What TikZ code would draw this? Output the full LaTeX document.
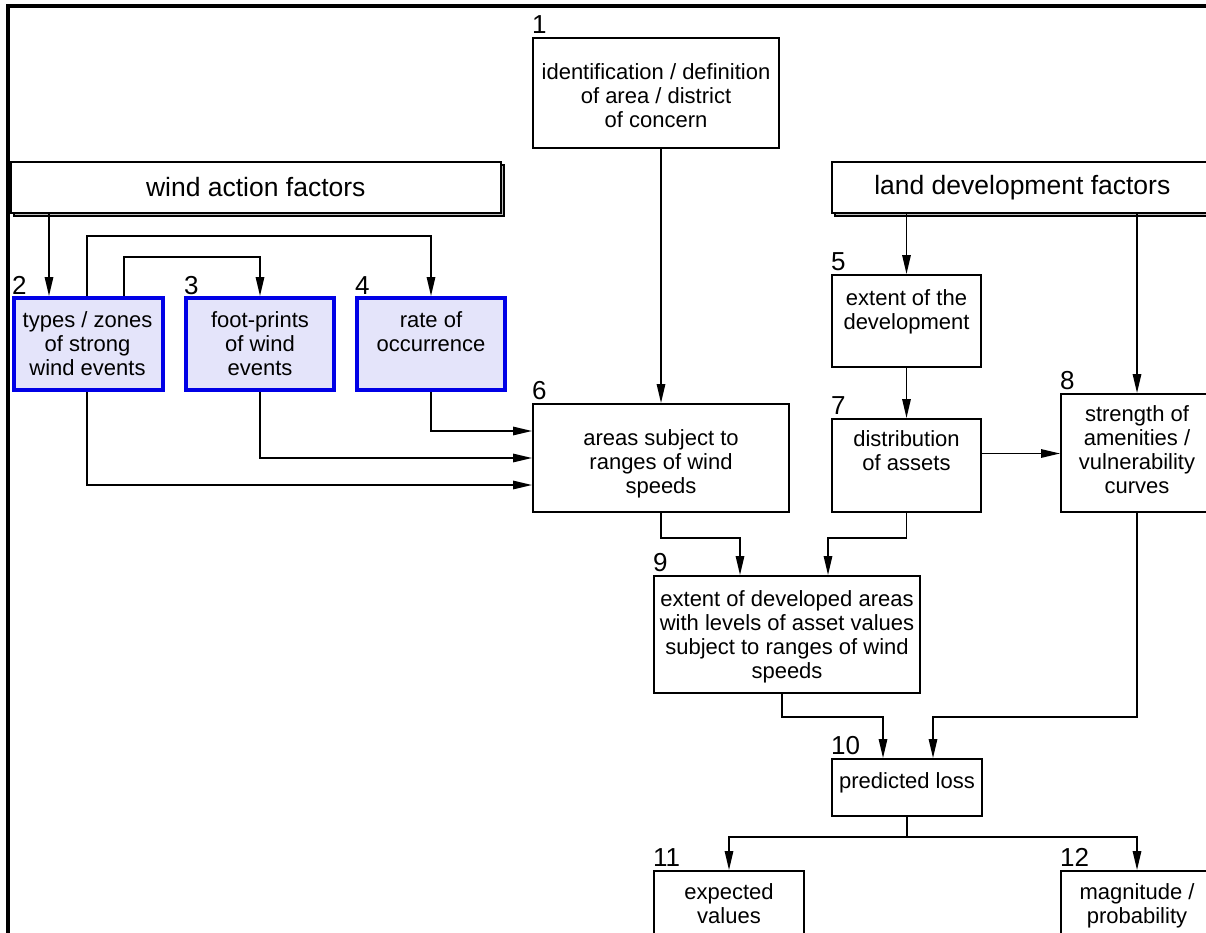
\documentclass[tikz,border=0pt]{standalone}
\usepackage{fontspec}
\setmainfont{Liberation Sans}
\usetikzlibrary{arrows.meta,shadows}

\definecolor{evtblue}{RGB}{0,0,230}
\definecolor{evtfill}{RGB}{228,228,250}

\tikzset{
  box/.style={draw, line width=2pt, anchor=north west, inner sep=0pt},
  evt/.style={box, draw=evtblue, line width=4pt, fill=evtfill},
  head/.style={draw, line width=1.6pt, fill=white, anchor=north west, font=\fontsize{26.5}{30}\selectfont,
    copy shadow={shadow xshift=3pt, shadow yshift=-3pt, fill=gray!50, draw=black, line width=1.6pt}},
  txt/.style={anchor=north, inner sep=0pt, yshift=-15pt, align=center, font=\fontsize{22}{24}\selectfont},
  num/.style={anchor=south west, inner sep=0pt, yshift=3pt, font=\fontsize{26}{30}\selectfont},
}

\begin{document}
\begin{tikzpicture}[x=1pt, y=-1pt, >={Triangle[length=19pt,width=8.5pt]}, conn/.style={->, line width=1.5pt}]
  \useasboundingbox (0,0) rectangle (1206,933);
  \clip (0,0) rectangle (1206,933);
  \draw[line width=3.5pt] (8,6) rectangle (1240,960);

  % factor headers
  \node[head, minimum width=490pt, minimum height=51pt] (wind) at (10,161) {wind action factors};
  \node[head, minimum width=381pt, minimum height=51pt] (land) at (831,161) {land development factors};

  % wind side
  \node[box, minimum width=246pt, minimum height=110pt, label={[num]north west:1},
    label={[txt,yshift=-11pt]north:identification / definition\\of area / district\\of concern}] (b1) at (532,37) {};
  \node[evt, minimum width=149pt, minimum height=92pt, label={[num,yshift=-2pt]north west:2},
    label={[txt,xshift=-1pt]north:types / zones\\of strong\\wind events}] (b2) at (12,296) {};
  \node[evt, minimum width=148pt, minimum height=92pt, label={[num,yshift=-2pt]north west:3},
    label={[txt]north:foot-prints\\of wind\\events}] (b3) at (184,296) {};
  \node[evt, minimum width=148pt, minimum height=92pt, label={[num,yshift=-2pt]north west:4},
    label={[txt]north:rate of\\occurrence}] (b4) at (355,296) {};
  \node[box, minimum width=256pt, minimum height=108pt, label={[num]north west:6},
    label={[txt,yshift=-11pt]north:areas subject to\\ranges of wind\\speeds}] (b6) at (532,403) {};

  % land side
  \node[box, minimum width=149pt, minimum height=92pt, label={[num]north west:5},
    label={[txt]north:extent of the\\development}] (b5) at (831,274) {};
  \node[box, minimum width=149pt, minimum height=93pt, label={[num]north west:7},
    label={[txt,yshift=3pt]north:distribution\\of assets}] (b7) at (831,418) {};
  \node[box, minimum width=152pt, minimum height=118pt, label={[num]north west:8},
    label={[txt,yshift=3pt]north:strength of\\amenities /\\vulnerability\\curves}] (b8) at (1060,393) {};

  % results
  \node[box, minimum width=266pt, minimum height=117pt, label={[num]north west:9},
    label={[txt]north:extent of developed areas\\with levels of asset values\\subject to ranges of wind\\speeds}] (b9) at (653,575) {};
  \node[box, minimum width=150pt, minimum height=57pt, label={[num]north west:10},
    label={[txt,yshift=1pt]north:predicted loss}] (b10) at (831,758) {};
  \node[box, minimum width=150pt, minimum height=100pt, label={[num]north west:11},
    label={[txt,yshift=2pt]north:expected\\values}] (b11) at (653,870) {};
  \node[box, minimum width=152pt, minimum height=100pt, label={[num]north west:12},
    label={[txt,yshift=2pt]north:magnitude /\\probability}] (b12) at (1060,870) {};

  % connectors
  \coordinate (b2a) at ([xshift=37pt]b2.north west);
  \coordinate (b2b) at ([xshift=75pt]b2.north west);
  \coordinate (b2c) at ([xshift=112pt]b2.north west);
  \coordinate (b2d) at ([xshift=75pt]b2.south west);
  \coordinate (b7r) at ([yshift=12pt]b7.east);

  \draw[conn] (wind.south -| b2a) -- (b2a);
  \draw[conn] (b2b) -- ++(0,-60) -| (b4.north);
  \draw[conn] (b2c) -- ++(0,-39) -| (b3.north);
  \draw[conn] (b4.south) |- ([yshift=27pt]b6.west);
  \draw[conn] (b3.south) |- (b6.west);
  \draw[conn] (b2d) |- ([yshift=-27pt]b6.west);
  \draw[conn] (b1.south -| b6.north) -- (b6.north);
  \draw[conn] (land.south -| b5.north) -- (b5.north);
  \draw[conn] (land.south -| b8.north) -- (b8.north);
  \draw[conn] (b5) -- (b7);
  \draw[conn] (b7r) -- (b7r -| b8.west);
  \draw[conn] (b6.south) -- ++(0,25) -| ([xshift=-47pt]b9.north);
  \draw[conn] (b7.south) -- ++(0,25) -| ([xshift=41pt]b9.north);
  \draw[conn] ([xshift=-5pt]b9.south) -- ++(0,23) -| ([xshift=-24pt]b10.north);
  \draw[conn] (b8.south) -- ++(0,204) -| ([xshift=26pt]b10.north);
  \draw[conn] (b10.south) -- ++(0,20) -| (b11.north);
  \draw[conn] (b10.south) -- ++(0,20) -| (b12.north);
\end{tikzpicture}
\end{document}
